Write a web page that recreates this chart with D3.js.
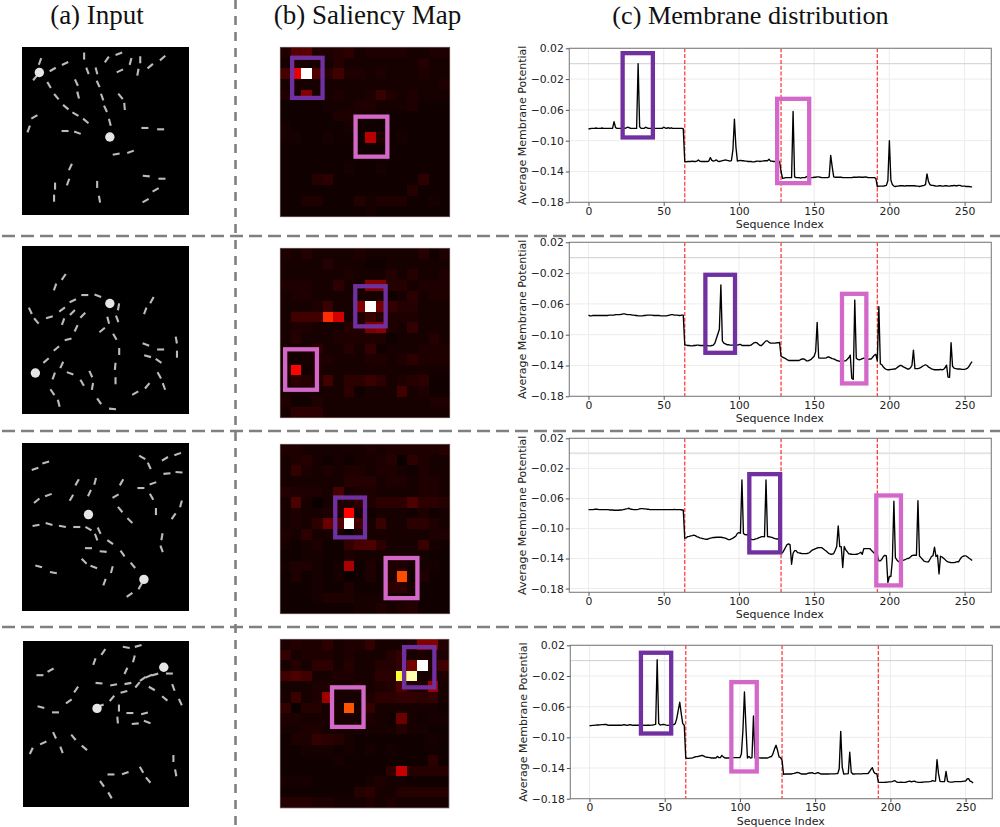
<!DOCTYPE html>
<html>
<head>
<meta charset="utf-8">
<title>Membrane distribution</title>
<script src="https://cdn.jsdelivr.net/npm/d3@7"></script>
<style>
  body { margin: 0; background: #fff; }
  svg { display: block; }
  .title { font-family: "Liberation Serif", serif; font-size: 27px; fill: #111; text-anchor: middle; }
  .axis text { font-family: "DejaVu Sans", sans-serif; font-size: 10.8px; fill: #222; }
  .axis-label { font-family: "DejaVu Sans", sans-serif; font-size: 11px; fill: #222; text-anchor: middle; }
</style>
</head>
<body>
<script>
'use strict';

const titles = ['(a) Input', '(b) Saliency Map', '(c) Membrane distribution'];
const xTicks = [0, 50, 100, 150, 200, 250];
const yTicks = [0.02, -0.02, -0.06, -0.10, -0.14, -0.18];
const sectionEdges = [64, 128, 192];

// average membrane potential per sequence index, 16 values a line
const membrane1 = [
  -.0845,-.0845,-.084,-.084,-.084,-.0835,-.084,-.084,-.084,-.0835,-.084,-.084,-.084,-.084,-.084,-.084,
  -.084,-.0752,-.083,-.084,-.084,-.084,-.084,-.084,-.084,-.0835,-.0825,-.083,-.084,-.084,-.084,-.084,
  -.084,0,-.082,-.084,-.084,-.084,-.0825,-.0835,-.084,-.084,-.084,-.084,-.084,-.084,-.084,-.084,
  -.084,-.084,-.0825,-.0835,-.084,-.083,-.084,-.0832,-.084,-.084,-.084,-.084,-.084,-.084,-.084,-.0845,
  -.127,-.1275,-.127,-.127,-.127,-.1265,-.127,-.127,-.1265,-.125,-.1265,-.127,-.127,-.127,-.127,-.127,
  -.1265,-.122,-.1255,-.1265,-.126,-.125,-.1265,-.127,-.1265,-.126,-.1255,-.125,-.1255,-.126,-.1265,-.126,
  -.112,-.072,-.108,-.1265,-.126,-.1255,-.126,-.126,-.1265,-.1265,-.127,-.127,-.127,-.1275,-.1275,-.127,
  -.1265,-.1265,-.127,-.1265,-.1265,-.126,-.126,-.126,-.124,-.1265,-.1265,-.127,-.127,-.127,-.1265,-.127,
  -.14,-.149,-.1485,-.148,-.148,-.148,-.148,-.148,-.062,-.147,-.148,-.148,-.148,-.1485,-.148,-.148,
  -.148,-.1465,-.1475,-.148,-.148,-.148,-.1475,-.1475,-.147,-.147,-.1475,-.148,-.148,-.148,-.148,-.148,
  -.147,-.119,-.134,-.147,-.1475,-.1475,-.1475,-.1475,-.1475,-.148,-.148,-.148,-.148,-.148,-.148,-.148,
  -.1475,-.1475,-.1475,-.1475,-.147,-.1475,-.1475,-.1475,-.147,-.1475,-.148,-.148,-.148,-.148,-.148,-.149,
  -.1595,-.159,-.159,-.159,-.159,-.1585,-.158,-.152,-.1,-.151,-.157,-.159,-.1595,-.159,-.159,-.1585,
  -.1585,-.1585,-.159,-.1585,-.1585,-.1585,-.1585,-.1585,-.1585,-.1585,-.159,-.159,-.1595,-.159,-.1585,-.158,
  -.157,-.143,-.153,-.157,-.158,-.158,-.1585,-.159,-.159,-.1585,-.1585,-.159,-.159,-.1585,-.1585,-.159,
  -.159,-.1585,-.1585,-.158,-.1585,-.1585,-.158,-.158,-.159,-.159,-.159,-.1595,-.1595,-.1595,-.16,-.16
];
const membrane2 = [
  -.0745,-.0755,-.0755,-.075,-.075,-.075,-.075,-.075,-.075,-.075,-.075,-.075,-.075,-.075,-.0745,-.0745,
  -.0745,-.0745,-.074,-.074,-.074,-.0738,-.0735,-.073,-.073,-.0735,-.074,-.074,-.074,-.0745,-.0745,-.075,
  -.075,-.0755,-.0755,-.0755,-.0755,-.075,-.075,-.0745,-.0745,-.0745,-.0745,-.075,-.075,-.075,-.075,-.075,
  -.0755,-.0755,-.0755,-.0755,-.0755,-.075,-.0745,-.074,-.074,-.0745,-.0745,-.0745,-.075,-.075,-.0745,-.0745,
  -.1135,-.1135,-.114,-.114,-.1145,-.1145,-.114,-.114,-.1135,-.1135,-.114,-.114,-.114,-.114,-.114,-.114,
  -.1145,-.1145,-.114,-.1135,-.111,-.105,-.099,-.093,-.0354,-.108,-.111,-.112,-.113,-.113,-.1135,-.1135,
  -.1135,-.1135,-.1135,-.1135,-.113,-.1125,-.114,-.114,-.114,-.114,-.114,-.114,-.1135,-.112,-.1105,-.11,
  -.1105,-.1125,-.114,-.114,-.112,-.11,-.108,-.108,-.11,-.111,-.111,-.111,-.111,-.1105,-.1105,-.11,
  -.128,-.129,-.13,-.131,-.1325,-.1335,-.1335,-.1335,-.1335,-.1335,-.1335,-.1335,-.1335,-.1325,-.1315,-.1315,
  -.1325,-.134,-.134,-.133,-.132,-.13,-.128,-.122,-.084,-.13,-.1305,-.1305,-.1305,-.1305,-.13,-.129,
  -.129,-.13,-.131,-.1315,-.1325,-.1335,-.134,-.1345,-.1345,-.134,-.134,-.134,-.132,-.13,-.1265,-.1565,
  -.158,-.055,-.1306,-.132,-.1325,-.132,-.131,-.1305,-.131,-.132,-.132,-.1315,-.1315,-.129,-.1265,-.1255,
  -.134,-.0635,-.138,-.139,-.142,-.144,-.145,-.1455,-.1455,-.145,-.145,-.1445,-.1445,-.143,-.1415,-.14,
  -.14,-.1415,-.1425,-.1435,-.1445,-.1445,-.143,-.14,-.12,-.144,-.144,-.144,-.1435,-.1425,-.141,-.14,
  -.139,-.14,-.142,-.143,-.1445,-.145,-.1455,-.1455,-.1455,-.1455,-.145,-.1455,-.145,-.143,-.1395,-.155,
  -.1555,-.1103,-.141,-.1435,-.144,-.1445,-.1445,-.1445,-.145,-.145,-.145,-.1445,-.1435,-.141,-.1375,-.135
];
const membrane3 = [
  -.0749,-.0749,-.0749,-.0749,-.0745,-.0745,-.0745,-.0749,-.0749,-.0749,-.0749,-.0749,-.0749,-.0749,-.0754,-.0754,
  -.0754,-.0758,-.0758,-.0758,-.0758,-.0754,-.0754,-.075,-.0745,-.074,-.0736,-.0731,-.0745,-.0745,-.0749,-.0749,
  -.0749,-.0745,-.074,-.0736,-.0736,-.074,-.074,-.0745,-.0745,-.0749,-.0749,-.0749,-.0749,-.0749,-.0749,-.0749,
  -.0749,-.0749,-.0749,-.0749,-.0749,-.0749,-.0749,-.0749,-.0749,-.0745,-.0749,-.0749,-.0749,-.075,-.0754,-.0754,
  -.113,-.1125,-.1108,-.1105,-.1098,-.1095,-.109,-.1095,-.1108,-.1115,-.1125,-.113,-.1135,-.114,-.1144,-.1144,
  -.1135,-.113,-.1125,-.112,-.112,-.1117,-.1117,-.1117,-.1117,-.112,-.1125,-.113,-.114,-.1148,-.1148,-.114,
  -.113,-.1115,-.11,-.1064,-.1055,-.1064,-.0354,-.1068,-.1082,-.1084,-.1086,-.1115,-.1144,-.1148,-.1148,-.114,
  -.1135,-.1126,-.112,-.1108,-.1108,-.111,-.0354,-.1108,-.111,-.1115,-.112,-.113,-.1135,-.114,-.1139,-.1153,
  -.133,-.1321,-.129,-.125,-.1215,-.1206,-.1219,-.1476,-.133,-.1295,-.1295,-.1321,-.1325,-.133,-.1335,-.1335,
  -.1335,-.1335,-.133,-.132,-.13,-.1285,-.1277,-.127,-.126,-.1255,-.1255,-.1255,-.127,-.1286,-.13,-.132,
  -.1335,-.1343,-.1343,-.1334,-.129,-.1241,-.0966,-.1241,-.1241,-.152,-.1241,-.1286,-.131,-.1339,-.134,-.1343,
  -.1345,-.1345,-.1343,-.134,-.133,-.1317,-.1343,-.1268,-.1268,-.1268,-.1268,-.1268,-.129,-.131,-.133,-.134,
  -.1352,-.1432,-.1432,-.141,-.1374,-.1357,-.1366,-.172,-.164,-.164,-.1419,-.0638,-.1388,-.1419,-.144,-.1454,
  -.144,-.1425,-.1419,-.141,-.14,-.1397,-.138,-.1361,-.1357,-.1357,-.1357,-.0629,-.1366,-.1388,-.141,-.1435,
  -.1441,-.1445,-.1445,-.141,-.1374,-.1361,-.125,-.1374,-.1357,-.1605,-.137,-.138,-.1397,-.1415,-.1435,-.1445,
  -.145,-.1454,-.1454,-.1454,-.145,-.1441,-.1445,-.141,-.1383,-.137,-.1366,-.1366,-.138,-.1397,-.141,-.1428
];
const membrane4 = [
  -.0848,-.0848,-.0845,-.0843,-.0841,-.0839,-.0839,-.0837,-.0835,-.0835,-.083,-.0832,-.0839,-.0843,-.0843,-.0843,
  -.0843,-.0843,-.0843,-.0843,-.0843,-.0843,-.0839,-.0834,-.0839,-.0843,-.0839,-.0834,-.0839,-.0843,-.0843,-.0843,
  -.0843,-.0843,-.0843,-.0843,-.0843,-.0841,-.0843,-.0843,-.0843,-.0841,-.0839,-.0835,-.083,.0013,-.0821,-.0839,
  -.0835,-.083,-.0835,-.0841,-.0843,-.0841,-.0839,-.0836,-.0834,-.0821,-.0756,-.0647,-.0543,-.0691,-.0821,-.0843,
  -.1269,-.1274,-.1274,-.1272,-.127,-.1265,-.1256,-.1252,-.125,-.1245,-.124,-.1235,-.1245,-.1255,-.126,-.1262,
  -.1265,-.1269,-.1269,-.1269,-.1269,-.1248,-.1265,-.1265,-.1235,-.1255,-.1269,-.1269,-.1269,-.1269,-.1265,-.1265,
  -.1265,-.1265,-.1265,-.1265,-.1265,-.1213,-.0908,-.0409,-.0865,-.1269,-.1248,-.1269,-.1265,-.0721,-.1269,-.1267,
  -.1265,-.1267,-.1269,-.1269,-.1269,-.1269,-.1269,-.1265,-.1256,-.125,-.1213,-.1148,-.1104,-.1169,-.1256,-.1265,
  -.13,-.1482,-.1478,-.1478,-.1478,-.1478,-.1478,-.1474,-.147,-.1465,-.1456,-.146,-.147,-.1478,-.1478,-.1478,
  -.1478,-.147,-.1465,-.1465,-.1461,-.147,-.1474,-.1465,-.1461,-.147,-.1478,-.1478,-.1478,-.1478,-.1478,-.1478,
  -.1476,-.1476,-.1476,-.1476,-.1474,-.1474,-.1409,-.0922,-.1387,-.1478,-.1476,-.1476,-.1474,-.1195,-.1456,-.1478,
  -.1478,-.1476,-.1476,-.1476,-.1476,-.1476,-.1474,-.1474,-.1474,-.1474,-.1452,-.142,-.1395,-.1452,-.1474,-.1474,
  -.1583,-.1587,-.1587,-.1587,-.1587,-.1585,-.1583,-.158,-.158,-.1578,-.157,-.1565,-.158,-.1587,-.1587,-.1583,
  -.1587,-.1587,-.1587,-.158,-.1574,-.157,-.158,-.1574,-.157,-.158,-.1585,-.1587,-.1587,-.1585,-.1583,-.158,
  -.158,-.158,-.1578,-.1574,-.1565,-.157,-.157,-.1291,-.1474,-.1574,-.1578,-.1578,-.1578,-.1443,-.157,-.158,
  -.1583,-.1583,-.158,-.1578,-.1578,-.1578,-.1578,-.1578,-.1574,-.157,-.157,-.1543,-.1539,-.157,-.1578,-.1596
];

// saliency in percent, 16 x 16 cells, one line per cell row
const saliency1 = [
  3,11,12,3,3,4,5,2,3,3,3,3,2,2,3,3,
  2,3,2,2,2,4,2,2,2,2,2,2,2,4,2,2,
  9,33,100,10,4,8,3,3,2,3,2,2,2,3,2,2,
  2,2,2,2,2,2,2,2,2,2,2,2,2,2,2,3,
  3,2,18,2,2,3,2,2,3,7,3,2,3,2,2,2,
  1,1,1,1,2,2,2,3,3,2,2,2,3,1,1,1,
  1,1,1,1,1,3,3,2,2,1,1,1,1,1,1,1,
  2,1,1,1,1,1,2,1,1,1,1,1,1,1,1,1,
  2,2,1,1,2,1,1,1,26,3,1,2,1,1,1,1,
  1,1,1,1,1,1,1,1,1,1,1,1,1,1,1,1,
  1,1,1,1,1,1,1,1,1,1,1,1,1,1,1,1,
  1,1,1,1,1,1,2,1,1,2,1,1,1,1,1,1,
  1,1,1,4,5,1,1,1,1,1,1,1,1,5,1,1,
  1,1,1,1,1,1,1,1,1,1,1,1,4,1,1,1,
  1,1,3,3,1,1,1,4,2,3,3,3,1,1,2,1,
  1,1,1,1,1,1,1,1,2,1,1,1,1,1,1,1
];
const saliency2 = [
  3,2,4,2,2,2,2,3,2,2,2,2,2,4,1,3,
  2,2,2,2,4,2,2,2,1,1,2,2,2,2,2,2,
  2,2,2,2,2,2,3,2,2,2,4,2,4,2,2,3,
  3,3,3,2,2,5,2,2,18,18,4,4,2,3,3,3,
  2,3,3,2,2,2,2,2,2,2,1,2,5,2,3,3,
  2,2,2,3,7,2,2,18,100,15,6,4,4,2,2,2,
  2,8,8,8,43,30,2,3,7,4,3,3,3,2,2,2,
  2,3,3,2,2,2,4,4,17,19,3,2,6,2,2,2,
  2,4,2,2,2,3,3,3,3,3,1,2,2,2,4,2,
  2,2,2,5,2,2,4,2,6,1,2,2,2,3,3,3,
  2,1,2,3,3,2,2,2,3,3,2,3,5,3,3,3,
  3,37,1,3,2,2,2,2,2,2,2,2,2,2,2,2,
  2,5,4,3,8,2,5,5,7,5,2,3,4,5,1,1,
  2,2,2,2,2,2,5,1,2,2,2,8,2,3,1,1,
  3,1,1,3,2,2,2,2,2,2,2,2,2,2,3,3,
  2,5,5,5,2,2,2,2,2,2,2,2,2,2,2,2
];
const saliency3 = [
  3,3,2,2,2,2,2,2,3,2,3,3,3,3,3,4,
  2,3,4,2,1,2,1,2,2,3,4,0,5,3,2,2,
  2,6,3,2,3,2,3,3,2,3,3,2,1,3,2,2,
  2,2,2,2,2,2,4,4,4,2,3,3,2,3,3,2,
  4,3,3,3,2,9,2,3,3,2,2,2,2,3,3,2,
  2,10,2,0,2,3,3,5,3,5,5,5,10,5,5,4,
  2,3,2,2,3,3,37,2,1,2,2,2,1,3,1,2,
  2,3,2,5,14,10,100,8,2,7,2,2,5,5,3,2,
  3,2,5,2,2,2,0,2,2,2,2,2,2,2,3,3,
  2,1,2,3,1,1,6,9,10,5,2,2,2,7,2,1,
  1,1,2,2,1,1,3,2,2,2,2,2,2,2,1,1,
  2,3,3,2,1,2,24,1,3,1,3,3,2,2,2,1,
  1,3,1,2,1,2,0,1,3,1,3,48,1,3,1,1,
  1,1,1,2,1,1,3,1,1,1,5,5,2,1,1,1,
  1,1,1,2,3,3,3,2,2,2,2,2,2,1,1,1,
  1,1,1,1,1,1,1,2,2,3,2,3,4,1,1,1
];
const saliency4 = [
  3,4,3,3,5,2,3,3,6,2,2,2,3,18,18,4,
  6,2,3,3,3,2,3,2,2,2,4,6,2,3,2,3,
  2,4,2,5,5,2,4,2,2,4,4,6,16,100,3,8,
  8,10,8,2,2,3,3,2,2,5,5,80,92,2,3,3,
  2,2,2,3,3,2,2,3,2,3,4,10,3,3,22,2,
  2,7,2,3,22,2,2,2,3,5,5,6,6,5,6,2,
  6,0,4,4,2,2,49,2,6,2,2,2,2,2,2,1,
  3,3,2,2,2,2,2,2,3,2,1,14,2,1,2,2,
  2,2,3,3,2,2,2,2,2,2,2,4,2,2,1,1,
  1,3,3,6,5,4,2,1,1,1,1,1,1,1,2,1,
  1,1,2,2,2,1,2,1,2,1,2,1,1,1,1,1,
  1,1,1,1,1,2,1,1,1,1,1,1,1,1,5,1,
  1,1,1,1,1,1,1,1,1,1,5,28,4,4,4,4,
  2,2,2,1,1,1,1,1,2,3,2,2,1,1,1,1,
  1,1,1,1,1,1,1,4,5,2,2,4,4,4,4,4,
  4,4,4,3,3,2,2,2,3,2,3,2,2,2,2,2
];

// input image content in a 0-500 image space: [cx, cy, angle in degrees]
const dashes1 = [
  [54,43,-70],[92,67,-30],[129,49,-25],[186,27,90],[254,37,-55],[290,20,-20],[325,43,-75],[354,38,90],
  [384,57,-40],[421,33,-40],[196,71,70],[223,71,75],[293,71,-25],[347,75,-80],[40,91,-50],[81,113,60],
  [163,106,65],[228,110,65],[103,148,50],[168,143,75],[240,149,70],[295,147,50],[307,177,85],[131,179,40],
  [250,184,65],[160,200,30],[191,220,40],[263,224,75],[37,208,-30],[20,244,-70],[129,250,0],[166,255,20],
  [368,241,0],[415,245,0],[282,319,-10],[325,312,-20],[145,357,-65],[138,402,-70],[99,414,90],[96,450,90],
  [225,409,90],[232,453,80],[372,384,5],[419,392,0],[400,425,-30],[370,457,-30]
];
const dashes2 = [
  [125,92,-55],[99,122,-70],[25,193,65],[43,223,50],[82,212,-15],[120,189,-35],[152,163,-25],[188,146,0],
  [227,148,20],[151,198,-45],[182,206,-45],[123,225,-70],[162,245,-65],[240,250,-40],[258,221,75],[285,217,70],
  [289,181,-80],[389,161,-60],[369,193,-70],[278,270,60],[138,278,-15],[103,305,-40],[72,341,-40],[291,314,90],
  [279,358,-85],[280,401,90],[119,354,-65],[95,387,-70],[144,379,20],[206,381,65],[180,407,60],[211,418,-80],
  [91,435,55],[110,468,75],[231,462,55],[271,485,5],[339,438,-30],[375,416,-50],[411,385,60],[425,418,70],
  [371,293,20],[415,308,0],[376,328,15],[409,342,35],[462,280,80],[464,322,90]
];
const dashes3 = [
  [39,77,-20],[71,58,-15],[360,43,30],[381,68,65],[428,47,-30],[466,33,-20],[434,91,-5],[470,87,5],
  [165,117,-60],[219,114,-75],[298,117,-60],[392,120,-20],[356,134,0],[202,149,-65],[79,155,-20],[44,172,-40],
  [148,163,-60],[280,158,-30],[388,160,60],[476,181,-75],[294,198,50],[401,204,90],[454,218,-55],[323,231,45],
  [42,245,-10],[81,241,15],[121,248,10],[164,250,0],[199,255,30],[231,261,65],[222,280,70],[264,295,35],
  [419,279,-80],[418,315,70],[199,313,0],[243,323,5],[301,329,55],[332,364,50],[186,352,45],[215,369,20],
  [269,377,-75],[247,414,-70],[50,367,15],[94,386,10],[322,452,-35],[354,426,-60]
];
const dashes4 = [
  [242,33,-55],[311,19,10],[347,15,-15],[215,62,-70],[334,54,-75],[83,88,-30],[51,103,0],[310,90,-65],
  [441,98,0],[397,101,-15],[379,106,-25],[361,114,-35],[345,132,-50],[229,127,5],[273,132,-10],[316,128,-10],
  [388,143,30],[453,140,70],[160,146,-55],[304,153,-15],[268,173,-50],[138,182,-35],[427,173,40],[474,184,65],
  [54,199,15],[98,215,0],[289,202,90],[322,217,0],[366,218,-15],[285,238,85],[338,249,-5],[374,244,20],
  [95,284,65],[152,290,50],[61,307,-25],[185,322,40],[25,331,-65],[116,328,70],[453,354,90],[460,397,80],
  [265,402,0],[308,398,-20],[357,388,60],[377,419,50],[238,430,55],[262,465,60],[233,195,-20]
];
const discs1 = [[52,76],[263,268]];
const discs2 = [[263,171],[40,378]];
const discs3 = [[199,213],[365,406]];
const discs4 = [[424,79],[223,203]];

// highlight boxes: saliency ones in cell units [x0, x1, y0, y1],
// chart ones in data units [index0, index1, potential0, potential1]
const cellBoxes1 = [[1.12,3.99,0.99,4.78],[7.11,10.11,6.55,10.33]];
const cellBoxes2 = [[7.08,9.95,3.58,7.37],[0.46,3.46,9.54,13.36]];
const cellBoxes3 = [[5.19,8.0,5.03,8.79],[9.95,12.95,10.74,14.53]];
const cellBoxes4 = [[11.75,14.62,0.74,4.56],[4.91,7.9,4.56,8.31]];
const seqBoxes1 = [[22.7,42.8,.0137,-.0958],[125.4,146.7,-.0456,-.1551]];
const seqBoxes2 = [[77.7,97.4,-.0222,-.1235],[168.5,184.7,-.0469,-.1633]];
const seqBoxes3 = [[106.9,127.4,-.0277,-.1319],[191.3,207.7,-.0561,-.1758]];
const seqBoxes4 = [[34.2,54.3,.0103,-.095],[94.3,111.2,-.028,-.1445]];

const BOX_COLORS = ['#7030a0', '#d468c9'];
const BOX_WIDTH = 4.3;
const GRID_COLOR = '#ececec';
const FRAME_COLOR = '#808080';
const SEP_COLOR = '#808080';
const DASH_HALF = 10.5;

// one entry per figure row, pixel frames of the three panels
let rows = [
  { series: membrane1, cells: saliency1, dashes: dashes1, discs: discs1, cellBoxes: cellBoxes1, seqBoxes: seqBoxes1,
    input: [22, 47, 167, 168], map: [280.3, 47.3, 169.4], plot: [569.3, 48.3, 422, 154], yMin: -0.18,
    zeroColor: '#cfcfcf', zeroWidth: 1 },
  { series: membrane2, cells: saliency2, dashes: dashes2, discs: discs2, cellBoxes: cellBoxes2, seqBoxes: seqBoxes2,
    input: [22, 246, 167, 168], map: [280.3, 248.3, 169.4], plot: [569.3, 242.3, 422, 154], yMin: -0.18,
    zeroColor: '#cfcfcf', zeroWidth: 1 },
  { series: membrane3, cells: saliency3, dashes: dashes3, discs: discs3, cellBoxes: cellBoxes3, seqBoxes: seqBoxes3,
    input: [22, 443, 167, 168], map: [280.3, 444.3, 169.4], plot: [569.3, 438.3, 422, 154], yMin: -0.185,
    zeroColor: '#e4e4e4', zeroWidth: 2 },
  { series: membrane4, cells: saliency4, dashes: dashes4, discs: discs4, cellBoxes: cellBoxes4, seqBoxes: seqBoxes4,
    input: [23, 641, 166, 166], map: [280.3, 639.3, 168.6], plot: [570.3, 645.3, 422, 153.4], yMin: -0.18,
    zeroColor: '#cfcfcf', zeroWidth: 1 }
];

let svg = d3.select('body').append('svg')
  .attr('width', 1000)
  .attr('height', 827);

svg.append('defs').append('filter')
  .attr('id', 'soft')
  .append('feGaussianBlur')
  .attr('stdDeviation', 0.6);

svg.selectAll('.title')
  .data(titles)
  .enter().append('text')
    .attr('class', 'title')
    .attr('x', function(d, i) { return [97, 367.5, 750.5][i]; })
    .attr('y', 24)
    .style('font-size', function(d, i) { return i === 2 ? '26.2px' : null; })
    .text(function(d) { return d; });

// matplotlib "hot" colormap
let hot = d3.scaleLinear()
  .domain([0, 36.5, 74.6, 100])
  .range(['#0a0000', '#ff0000', '#ffff00', '#ffffff'])
  .clamp(true);

function drawInput(row) {
  let [left, top, w, h] = row.input;
  let sx = d3.scaleLinear().domain([0, 500]).range([left, left + w]);
  let sy = d3.scaleLinear().domain([0, 500]).range([top, top + h]);
  let g = svg.append('g');

  g.append('rect')
    .attr('x', left).attr('y', top)
    .attr('width', w).attr('height', h)
    .attr('fill', '#000');

  let marks = g.append('g').attr('filter', 'url(#soft)');

  marks.selectAll('line')
    .data(row.dashes)
    .enter().append('line')
      .attr('x1', function(d) { return sx(d[0] - DASH_HALF * Math.cos(d[2] * Math.PI / 180)); })
      .attr('y1', function(d) { return sy(d[1] - DASH_HALF * Math.sin(d[2] * Math.PI / 180)); })
      .attr('x2', function(d) { return sx(d[0] + DASH_HALF * Math.cos(d[2] * Math.PI / 180)); })
      .attr('y2', function(d) { return sy(d[1] + DASH_HALF * Math.sin(d[2] * Math.PI / 180)); })
      .attr('stroke', '#bcbcbc')
      .attr('stroke-width', 2.1);

  marks.selectAll('circle')
    .data(row.discs)
    .enter().append('circle')
      .attr('cx', function(d) { return sx(d[0]); })
      .attr('cy', function(d) { return sy(d[1]); })
      .attr('r', 4.7)
      .attr('fill', '#e6e6e6');
}

function drawSaliency(row) {
  let [left, top, size] = row.map;
  let band = d3.scaleBand().domain(d3.range(16)).range([0, size]);
  let unit = d3.scaleLinear().domain([0, 16]).range([0, size]);
  let g = svg.append('g').attr('transform', 'translate(' + left + ',' + top + ')');

  g.selectAll('rect.cell')
    .data(row.cells)
    .enter().append('rect')
      .attr('class', 'cell')
      .attr('x', function(d, i) { return band(i % 16); })
      .attr('y', function(d, i) { return band(Math.floor(i / 16)); })
      .attr('width', band.bandwidth() + 0.3)
      .attr('height', band.bandwidth() + 0.3)
      .attr('fill', function(d) { return hot(d); })
      .attr('shape-rendering', 'crispEdges');

  g.append('rect')
    .attr('width', size).attr('height', size)
    .attr('fill', 'none')
    .attr('stroke', '#6e5c5c')
    .attr('stroke-width', 0.8);

  g.selectAll('rect.box')
    .data(row.cellBoxes)
    .enter().append('rect')
      .attr('class', 'box')
      .attr('x', function(d) { return unit(d[0]); })
      .attr('y', function(d) { return unit(d[2]); })
      .attr('width', function(d) { return unit(d[1]) - unit(d[0]); })
      .attr('height', function(d) { return unit(d[3]) - unit(d[2]); })
      .attr('fill', 'none')
      .attr('stroke', function(d, i) { return BOX_COLORS[i]; })
      .attr('stroke-width', BOX_WIDTH);
}

function drawMembrane(row) {
  let [left, top, w, h] = row.plot;
  let x = d3.scaleLinear().domain([-12.75, 267.75]).range([0, w]);
  let y = d3.scaleLinear().domain([row.yMin, 0.02]).range([h, 0]);
  let g = svg.append('g').attr('transform', 'translate(' + left + ',' + top + ')');

  g.selectAll('line.gridx')
    .data(xTicks)
    .enter().append('line')
      .attr('class', 'gridx')
      .attr('x1', function(d) { return x(d); })
      .attr('x2', function(d) { return x(d); })
      .attr('y1', 0).attr('y2', h)
      .attr('stroke', GRID_COLOR);

  g.selectAll('line.gridy')
    .data(yTicks)
    .enter().append('line')
      .attr('class', 'gridy')
      .attr('x1', 0).attr('x2', w)
      .attr('y1', function(d) { return y(d); })
      .attr('y2', function(d) { return y(d); })
      .attr('stroke', GRID_COLOR);

  // resting level
  g.append('line')
    .attr('x1', 0).attr('x2', w)
    .attr('y1', y(0)).attr('y2', y(0))
    .attr('stroke', row.zeroColor)
    .attr('stroke-width', row.zeroWidth);

  g.selectAll('line.edge')
    .data(sectionEdges)
    .enter().append('line')
      .attr('class', 'edge')
      .attr('x1', function(d) { return x(d); })
      .attr('x2', function(d) { return x(d); })
      .attr('y1', 0).attr('y2', h)
      .attr('stroke', '#ff0000')
      .attr('stroke-opacity', 0.75)
      .attr('stroke-width', 1.3)
      .attr('stroke-dasharray', '4,1.8');

  let line = d3.line()
    .x(function(d, i) { return x(i); })
    .y(function(d) { return y(d); });

  g.append('path')
    .datum(row.series)
    .attr('d', line)
    .attr('fill', 'none')
    .attr('stroke', '#000')
    .attr('stroke-width', 1.35)
    .attr('stroke-linejoin', 'round');

  g.append('rect')
    .attr('width', w).attr('height', h)
    .attr('fill', 'none')
    .attr('stroke', FRAME_COLOR)
    .attr('stroke-width', 1.1);

  let xAxis = g.append('g')
    .attr('class', 'axis')
    .attr('transform', 'translate(0,' + h + ')')
    .call(d3.axisBottom(x).tickValues(xTicks).tickSize(3.5).tickPadding(1.5));
  let yAxis = g.append('g')
    .attr('class', 'axis')
    .call(d3.axisLeft(y).tickValues(yTicks).tickFormat(d3.format('.2f')).tickSize(3.5).tickPadding(2));
  xAxis.select('.domain').remove();
  yAxis.select('.domain').remove();
  g.selectAll('.axis line').attr('stroke', '#555');

  g.append('text')
    .attr('class', 'axis-label')
    .attr('x', w / 2 - 0.5)
    .attr('y', h + 26)
    .text('Sequence Index');

  g.append('text')
    .attr('class', 'axis-label')
    .attr('transform', 'translate(-43.5,' + (h / 2) + ') rotate(-90)')
    .text('Average Membrane Potential');

  g.selectAll('rect.box')
    .data(row.seqBoxes)
    .enter().append('rect')
      .attr('class', 'box')
      .attr('x', function(d) { return x(d[0]); })
      .attr('y', function(d) { return y(d[2]); })
      .attr('width', function(d) { return x(d[1]) - x(d[0]); })
      .attr('height', function(d) { return y(d[3]) - y(d[2]); })
      .attr('fill', 'none')
      .attr('stroke', function(d, i) { return BOX_COLORS[i]; })
      .attr('stroke-width', BOX_WIDTH);
}

rows.forEach(function(row) {
  drawInput(row);
  drawSaliency(row);
  drawMembrane(row);
});

// row separators and the column separator
svg.selectAll('line.sep')
  .data([236, 431, 627])
  .enter().append('line')
    .attr('class', 'sep')
    .attr('x1', 2).attr('x2', 1000)
    .attr('y1', function(d) { return d; })
    .attr('y2', function(d) { return d; })
    .attr('stroke', SEP_COLOR)
    .attr('stroke-width', 2.6)
    .attr('stroke-dasharray', '13,6');

svg.append('line')
  .attr('class', 'sep')
  .attr('x1', 235.5).attr('x2', 235.5)
  .attr('y1', 0).attr('y2', 827)
  .attr('stroke', SEP_COLOR)
  .attr('stroke-width', 2.6)
  .attr('stroke-dasharray', '9,7');
</script>
</body>
</html>
